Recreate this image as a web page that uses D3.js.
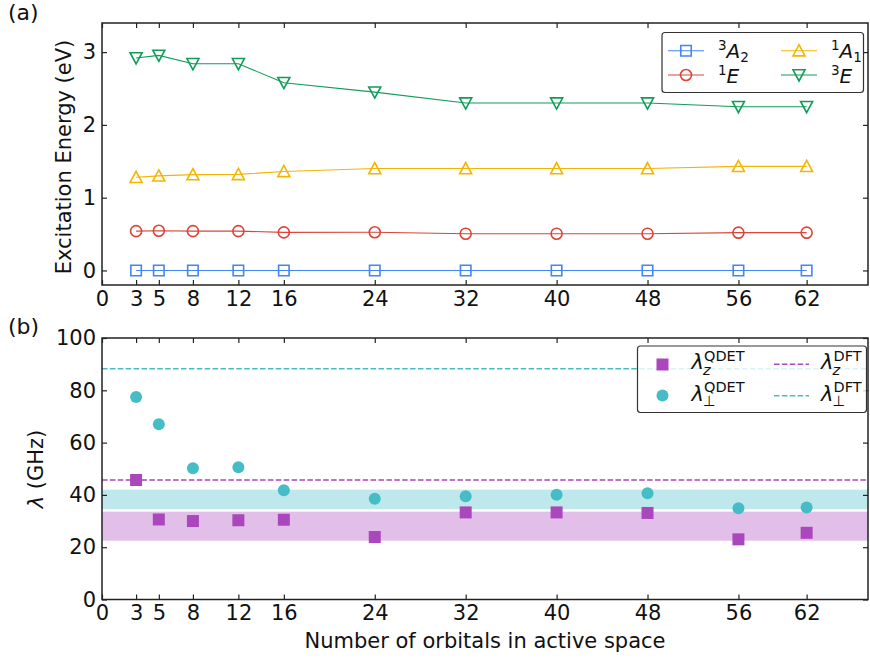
<!DOCTYPE html>
<html>
<head>
<meta charset="utf-8">
<script src="https://cdn.jsdelivr.net/npm/d3@7"></script>
<style>
  html, body { margin: 0; padding: 0; background: #fff; }
  svg { display: block; font-family: "DejaVu Sans", sans-serif; }
  .axis path { display: none; }
  .axis line { stroke: #222; stroke-width: 1.2; }
  .axis text { font-family: "DejaVu Sans", sans-serif; font-size: 21px; fill: #111; }
</style>
</head>
<body>
<svg id="chart" width="870" height="660"></svg>
<script>
// Active-space sizes (number of orbitals)
const orbitals = [3, 5, 8, 12, 16, 24, 32, 40, 48, 56, 62];
const xTicks = [0, 3, 5, 8, 12, 16, 24, 32, 40, 48, 56, 62];

// (a) excitation energies, eV
const e3A2 = [0, 0, 0, 0, 0, 0, 0, 0, 0, 0, 0];
const e1E  = [0.54, 0.546, 0.54, 0.54, 0.523, 0.525, 0.505, 0.505, 0.505, 0.519, 0.519];
const e1A1 = [1.28, 1.30, 1.317, 1.32, 1.36, 1.40, 1.40, 1.40, 1.40, 1.43, 1.43];
const e3E  = [2.92, 2.955, 2.84, 2.84, 2.58, 2.45, 2.30, 2.30, 2.30, 2.25, 2.25];
const yTicksA = [0, 1, 2, 3];

// (b) zero-field splitting parameters, GHz
const lamZ    = [45.7, 30.6, 30.0, 30.3, 30.5, 23.9, 33.3, 33.3, 33.1, 23.0, 25.5];
const lamPerp = [77.4, 67.0, 50.2, 50.6, 41.8, 38.5, 39.5, 40.1, 40.6, 34.9, 35.2];
const lamZDFT = 45.7;
const lamPerpDFT = 88.2;
const bandPerp = [34.5, 42.0];
const bandZ = [22.5, 33.6];
const yTicksB = [0, 20, 40, 60, 80, 100];

const C = {
  blue: "#4285F4", red: "#DB4437", yellow: "#F4B400", green: "#0F9D58",
  purple: "#AB47BC", cyan: "#46BDC6"
};

const svg = d3.select("#chart");
const L = 102, R = 868;
const x = d3.scaleLinear().domain([0, 67.4]).range([L, R]);
const yA = d3.scaleLinear().domain([-0.2, 3.4]).range([285, 23]);
const yB = d3.scaleLinear().domain([0, 100]).range([599.5, 338]);

function frame(y, ticks, pad) {
  const [b, t] = y.range();
  const g = svg.append("g");
  g.append("g").attr("class", "axis").attr("transform", `translate(0,${b})`)
    .call(d3.axisBottom(x).tickValues(xTicks).tickSize(-5).tickPadding(6).tickFormat(d3.format("d")));
  g.append("g").attr("class", "axis").attr("transform", `translate(0,${t})`)
    .call(d3.axisTop(x).tickValues(xTicks).tickSize(-5).tickFormat(""));
  g.append("g").attr("class", "axis").attr("transform", `translate(${L},0)`)
    .call(d3.axisLeft(y).tickValues(ticks).tickSize(-5).tickPadding(pad).tickFormat(d3.format("d")));
  g.append("g").attr("class", "axis").attr("transform", `translate(${R},0)`)
    .call(d3.axisRight(y).tickValues(ticks).tickSize(-5).tickFormat(""));
  g.append("rect").attr("x", L).attr("y", t).attr("width", R - L).attr("height", b - t)
    .attr("fill", "none").attr("stroke", "#222").attr("stroke-width", 1.5);
  return g;
}

// ---------- panel (a) ----------
const symSquare = d3.symbol().type(d3.symbolSquare).size(110);
const symCircle = d3.symbol().type(d3.symbolCircle).size(95);
const triUp = "M0,-6L6,5.2L-6,5.2Z";
const triDown = "M0,6L6,-5.2L-6,-5.2Z";

const seriesA = [
  { vals: e3A2, color: C.blue, path: symSquare() },
  { vals: e1E, color: C.red, path: symCircle() },
  { vals: e1A1, color: C.yellow, path: triUp },
  { vals: e3E, color: C.green, path: triDown }
];
const gA = svg.append("g");
seriesA.forEach(s => {
  const pts = orbitals.map((o, i) => [x(o), yA(s.vals[i])]);
  gA.append("path").attr("d", d3.line()(pts)).attr("fill", "none")
    .attr("stroke", s.color).attr("stroke-width", 1.1);
  gA.selectAll(null).data(pts).join("path")
    .attr("transform", d => `translate(${d[0]},${d[1]})`)
    .attr("d", s.path).attr("fill", "none").attr("stroke", s.color).attr("stroke-width", 1.6);
});
frame(yA, yTicksA, 6);

// legend (a)
const lgA = svg.append("g");
lgA.append("rect").attr("x", 662).attr("y", 32.5).attr("width", 201.5).attr("height", 60)
  .attr("rx", 3).attr("fill", "#fff").attr("fill-opacity", 0.8)
  .attr("stroke", "#333").attr("stroke-width", 1.2);
const legA = [
  { s: seriesA[0], lx: 668, ly: 50.7, sup: "3", main: "A", sub: "2" },
  { s: seriesA[2], lx: 781, ly: 50.7, sup: "1", main: "A", sub: "1" },
  { s: seriesA[1], lx: 668, ly: 75, sup: "1", main: "E", sub: "" },
  { s: seriesA[3], lx: 781, ly: 75, sup: "3", main: "E", sub: "" }
];
legA.forEach(e => {
  lgA.append("line").attr("x1", e.lx).attr("x2", e.lx + 36).attr("y1", e.ly).attr("y2", e.ly)
    .attr("stroke", e.s.color).attr("stroke-width", 1.1);
  lgA.append("path").attr("transform", `translate(${e.lx + 18},${e.ly})`).attr("d", e.s.path)
    .attr("fill", "none").attr("stroke", e.s.color).attr("stroke-width", 1.6);
  const t = lgA.append("text").attr("x", e.lx + 50).attr("y", e.ly + 7.5).attr("font-size", 20).attr("fill", "#111");
  t.append("tspan").attr("font-size", 13.5).attr("dy", -8).text(e.sup);
  t.append("tspan").attr("font-style", "italic").attr("dy", 8).text(e.main);
  if (e.sub) t.append("tspan").attr("font-size", 13.5).attr("dy", 4).text(e.sub);
});

// ---------- panel (b) ----------
const gB = svg.append("g");
gB.append("rect").attr("x", L).attr("width", R - L)
  .attr("y", yB(bandPerp[1])).attr("height", yB(bandPerp[0]) - yB(bandPerp[1]))
  .attr("fill", C.cyan).attr("fill-opacity", 0.35);
gB.append("rect").attr("x", L).attr("width", R - L)
  .attr("y", yB(bandZ[1])).attr("height", yB(bandZ[0]) - yB(bandZ[1]))
  .attr("fill", C.purple).attr("fill-opacity", 0.35);
gB.append("line").attr("x1", L).attr("x2", R).attr("y1", yB(lamPerpDFT)).attr("y2", yB(lamPerpDFT))
  .attr("stroke", C.cyan).attr("stroke-width", 1.5).attr("stroke-dasharray", "5.5,2.4");
gB.append("line").attr("x1", L).attr("x2", R).attr("y1", yB(lamZDFT)).attr("y2", yB(lamZDFT))
  .attr("stroke", C.purple).attr("stroke-width", 1.5).attr("stroke-dasharray", "5.5,2.4");

gB.selectAll(null).data(orbitals.map((o, i) => [x(o), yB(lamPerp[i])])).join("circle")
  .attr("cx", d => d[0]).attr("cy", d => d[1]).attr("r", 6).attr("fill", C.cyan);
gB.selectAll(null).data(orbitals.map((o, i) => [x(o), yB(lamZ[i])])).join("rect")
  .attr("x", d => d[0] - 6).attr("y", d => d[1] - 6).attr("width", 12).attr("height", 12)
  .attr("fill", C.purple);
frame(yB, yTicksB, 6);

// legend (b)
const lgB = svg.append("g");
lgB.append("rect").attr("x", 637.5).attr("y", 346).attr("width", 229).attr("height", 66.5)
  .attr("rx", 3).attr("fill", "#fff").attr("fill-opacity", 0.8)
  .attr("stroke", "#333").attr("stroke-width", 1.2);
lgB.append("rect").attr("x", 656.5).attr("y", 358.5).attr("width", 12).attr("height", 12).attr("fill", C.purple);
lgB.append("circle").attr("cx", 662.5).attr("cy", 395.5).attr("r", 6).attr("fill", C.cyan);
lgB.append("line").attr("x1", 774).attr("x2", 809).attr("y1", 364.3).attr("y2", 364.3)
  .attr("stroke", C.purple).attr("stroke-width", 1.5).attr("stroke-dasharray", "5.5,2.4");
lgB.append("line").attr("x1", 774).attr("x2", 809).attr("y1", 395.7).attr("y2", 395.7)
  .attr("stroke", C.cyan).attr("stroke-width", 1.5).attr("stroke-dasharray", "5.5,2.4");

// λ with stacked superscript and subscript, drawn as one text element
function lambdaLabel(g, lx, base, sup, sub, subItalic) {
  const t = g.append("text").attr("x", lx).attr("y", base).attr("font-size", 21).attr("fill", "#111");
  t.append("tspan").attr("font-style", "italic").text("λ");
  t.append("tspan").attr("x", lx + 12.5).attr("y", base - 8.5).attr("font-size", 14.5).text(sup);
  t.append("tspan").attr("x", lx + 11.5).attr("y", base + 5.5).attr("font-size", 14.5)
    .attr("font-style", subItalic ? "italic" : "normal").text(sub);
}
lambdaLabel(lgB, 691.5, 369, "QDET", "z", true);
lambdaLabel(lgB, 691.5, 400.5, "QDET", "⊥", false);
lambdaLabel(lgB, 821, 369, "DFT", "z", true);
lambdaLabel(lgB, 821, 400.5, "DFT", "⊥", false);

// titles and panel tags
svg.append("text").attr("transform", `translate(71,157) rotate(-90)`).attr("text-anchor", "middle")
  .attr("font-size", 21).attr("fill", "#111").text("Excitation Energy (eV)");
const yl = svg.append("text").attr("transform", `translate(43,469) rotate(-90)`).attr("text-anchor", "middle")
  .attr("font-size", 21).attr("fill", "#111");
yl.append("tspan").attr("font-style", "italic").text("λ");
yl.append("tspan").text(" (GHz)");
svg.append("text").attr("x", (L + R) / 2).attr("y", 648).attr("text-anchor", "middle")
  .attr("font-size", 21).attr("fill", "#111").text("Number of orbitals in active space");
svg.append("text").attr("x", 8).attr("y", 20).attr("font-size", 22).attr("fill", "#111").text("(a)");
svg.append("text").attr("x", 8).attr("y", 334).attr("font-size", 22).attr("fill", "#111").text("(b)");
</script>
</body>
</html>
